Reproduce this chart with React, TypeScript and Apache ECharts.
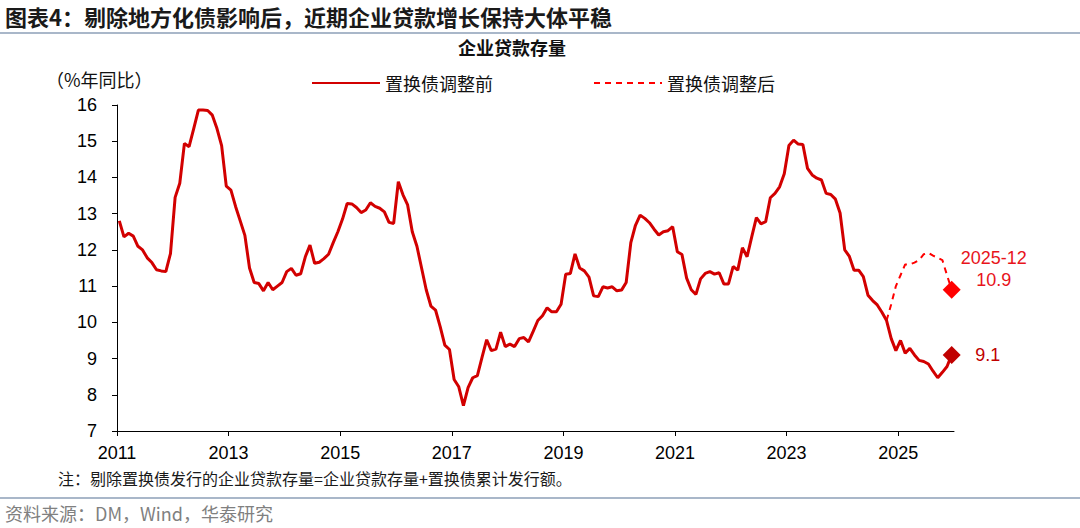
import React, { useEffect, useRef } from 'react';
import * as echarts from 'echarts';

// ---- data ----
const startYear = 2011; // first month = 2011-01
const yearTicks = [2011, 2013, 2015, 2017, 2019, 2021, 2023, 2025];
const yMin = 7;
const yMax = 16;

// 企业贷款存量同比（置换债调整前），月度 2011-01 .. 2025-12
const beforeAdj: number[] = [
  // 2011
  12.8, 12.36, 12.46, 12.38, 12.1, 12.0, 11.78, 11.65, 11.45, 11.42, 11.4, 11.9,
  // 2012
  13.45, 13.84, 14.94, 14.85, 15.35, 15.86, 15.86, 15.85, 15.72, 15.35, 14.88, 13.76,
  // 2013
  13.65, 13.2, 12.8, 12.4, 11.5, 11.1, 11.07, 10.87, 11.1, 10.9, 11.0, 11.1,
  // 2014
  11.4, 11.49, 11.3, 11.34, 11.81, 12.13, 11.63, 11.66, 11.76, 11.88, 12.2, 12.5,
  // 2015
  12.85, 13.28, 13.27, 13.17, 13.03, 13.1, 13.3, 13.2, 13.15, 13.05, 12.76, 12.73,
  // 2016
  13.88, 13.52, 13.24, 12.5, 12.1, 11.5, 10.9, 10.45, 10.34, 9.88, 9.37, 9.25,
  // 2017
  8.42, 8.22, 7.7, 8.2, 8.47, 8.53, 9.03, 9.52, 9.22, 9.26, 9.73, 9.33,
  // 2018
  9.4, 9.33, 9.55, 9.58, 9.46, 9.75, 10.05, 10.18, 10.4, 10.29, 10.29, 10.5,
  // 2019
  11.33, 11.35, 11.89, 11.5, 11.42, 11.25, 10.73, 10.71, 10.98, 10.95, 10.98, 10.87,
  // 2020
  10.89, 11.1, 12.2, 12.68, 12.96, 12.87, 12.75, 12.57, 12.41, 12.5, 12.53, 12.64,
  // 2021
  11.95, 11.87, 11.22, 10.9, 10.77, 11.2, 11.35, 11.4, 11.33, 11.37, 11.06, 11.06,
  // 2022
  11.54, 11.44, 12.06, 11.81, 12.36, 12.89, 12.72, 12.78, 13.44, 13.56, 13.74, 14.1,
  // 2023
  14.88, 15.03, 14.92, 14.91, 14.25, 14.07, 13.98, 13.93, 13.56, 13.53, 13.4, 13.02,
  // 2024
  12.0, 11.82, 11.44, 11.44, 11.26, 10.75, 10.6, 10.48, 10.28, 10.05, 9.55, 9.22,
  // 2025
  9.5, 9.15, 9.28, 9.1, 8.95, 8.92, 8.85, 8.65, 8.47, 8.62, 8.78, 9.1,
];

// 置换债调整后，月度 2024-10 .. 2025-12
const afterStartIndex = 165; // 2024-10
const afterAdj: number[] = [
  10.05, 10.5, 11.0, 11.3, 11.6, 11.6, 11.65, 11.72, 11.88, 11.92, 11.84, 11.78, 11.72, 11.3, 10.9,
];

const lastMonthLabel = '2025-12';
const seriesNames = ['置换债调整前', '置换债调整后'];

const titleText = '图表4：剔除地方化债影响后，近期企业贷款增长保持大体平稳';
const chartTitle = '企业贷款存量';
const unitText = '（%年同比）';
const noteText = '注：剔除置换债发行的企业贷款存量=企业贷款存量+置换债累计发行额。';
const sourceText = '资料来源：DM，Wind，华泰研究';

// ---- style ----
const NUM_FONT = "'Liberation Sans', Arial, 'Noto Sans CJK SC', sans-serif";
const CJK_FONT = "'Noto Sans CJK SC', 'Liberation Sans', sans-serif";
const SOLID_RED = '#d20000';
const DARK_RED = '#c00000';
const BRIGHT_RED = '#ff0000';

const monthPos = (idx: number) => startYear + (idx + 0.5) / 12;

export default function App() {
  const ref = useRef<HTMLDivElement>(null);

  useEffect(() => {
    if (!ref.current) return;
    const chart = echarts.init(ref.current, null, { renderer: 'svg' });

    const beforeData = beforeAdj.map((v, i) => [monthPos(i), v]);
    const afterData = afterAdj.map((v, i) => [monthPos(afterStartIndex + i), v]);
    const lastIdx = beforeAdj.length - 1;
    const lastX = monthPos(lastIdx);

    const option: any = {
      animation: false,
      textStyle: { fontFamily: NUM_FONT },
      grid: { left: 117, right: 126, top: 105, bottom: 97, containLabel: false },
      legend: {
        data: seriesNames,
        left: 306,
        top: 69,
        itemWidth: 68,
        itemHeight: 14,
        itemGap: 100,
        itemStyle: { opacity: 0, color: 'transparent', borderWidth: 0 },
        textStyle: { fontSize: 18, color: '#111', fontFamily: CJK_FONT },
        selectedMode: false,
      },
      xAxis: {
        type: 'value',
        min: startYear,
        max: startYear + 15,
        splitLine: { show: false },
        axisLine: { show: true, lineStyle: { color: '#000', width: 1 } },
        axisTick: { show: true, length: 5, lineStyle: { color: '#000' }, customValues: yearTicks },
        axisLabel: {
          customValues: yearTicks,
          fontSize: 18,
          color: '#000',
          margin: 13,
          formatter: (v: number) => String(Math.round(v)),
        },
      },
      yAxis: {
        type: 'value',
        min: yMin,
        max: yMax,
        interval: 1,
        splitLine: { show: false },
        axisLine: { show: true, lineStyle: { color: '#000', width: 1 } },
        axisTick: { show: true, length: 5, lineStyle: { color: '#000' } },
        axisLabel: { fontSize: 18, color: '#000', margin: 20 },
      },
      series: [
        {
          name: seriesNames[0],
          type: 'line',
          data: beforeData,
          symbol: 'none',
          showSymbol: false,
          lineStyle: { color: SOLID_RED, width: 3 },
          itemStyle: { color: SOLID_RED },
          z: 3,
        },
        {
          name: seriesNames[1],
          type: 'line',
          data: afterData,
          symbol: 'none',
          showSymbol: false,
          lineStyle: { color: BRIGHT_RED, width: 2, type: [6, 5] },
          itemStyle: { color: BRIGHT_RED },
          z: 2,
        },
        {
          name: 'after-end',
          type: 'scatter',
          data: [[lastX, afterAdj[afterAdj.length - 1]]],
          symbol: 'diamond',
          symbolSize: 18,
          itemStyle: { color: BRIGHT_RED, opacity: 1 },
          z: 4,
          label: {
            show: true,
            position: 'inside',
            offset: [42, -21],
            align: 'center',
            verticalAlign: 'middle',
            lineHeight: 22,
            fontSize: 18,
            color: '#e8141b',
            formatter: (p: any) => `${lastMonthLabel}\n${p.value[1].toFixed(1)}`,
          },
        },
        {
          name: 'before-end',
          type: 'scatter',
          data: [[lastX, beforeAdj[lastIdx]]],
          symbol: 'diamond',
          symbolSize: 18,
          itemStyle: { color: DARK_RED, opacity: 1 },
          z: 4,
          label: {
            show: true,
            position: 'inside',
            offset: [36, 0],
            align: 'center',
            verticalAlign: 'middle',
            fontSize: 18,
            color: DARK_RED,
            formatter: (p: any) => p.value[1].toFixed(1),
          },
        },
      ],
      graphic: [
        {
          type: 'text',
          left: 5,
          top: 5,
          style: { text: titleText, font: `bold 22px ${CJK_FONT}`, fill: '#1a1a1a' },
        },
        {
          type: 'line',
          shape: { x1: 0, y1: 33, x2: 1080, y2: 33 },
          style: { stroke: '#a9b7c9', lineWidth: 2 },
        },
        {
          type: 'text',
          x: 512,
          y: 47,
          style: {
            text: chartTitle,
            font: `bold 18px ${CJK_FONT}`,
            fill: '#111',
            textAlign: 'center',
            textVerticalAlign: 'middle',
          },
        },
        {
          type: 'text',
          x: 46,
          y: 79,
          style: { text: unitText, font: `18px ${CJK_FONT}`, fill: '#111', textVerticalAlign: 'middle' },
        },
        {
          type: 'text',
          x: 58,
          y: 478,
          style: { text: noteText, font: `16px ${CJK_FONT}`, fill: '#1a1a1a', textVerticalAlign: 'middle' },
        },
        {
          type: 'line',
          shape: { x1: 0, y1: 498, x2: 1080, y2: 498 },
          style: { stroke: '#a9b7c9', lineWidth: 2 },
        },
        {
          type: 'text',
          x: 5,
          y: 513,
          style: { text: sourceText, font: `18px ${CJK_FONT}`, fill: '#808080', textVerticalAlign: 'middle' },
        },
      ],
    };

    chart.setOption(option);
    return () => chart.dispose();
  }, []);

  return (
    <div
      ref={ref}
      style={{ position: 'fixed', left: 0, top: 0, width: 1080, height: 528, background: '#fff' }}
    />
  );
}
